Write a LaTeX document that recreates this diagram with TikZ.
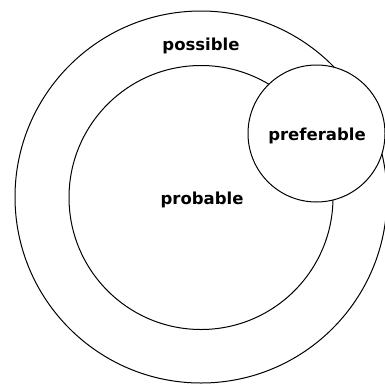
\documentclass[tikz,border=0pt]{standalone}
\usepackage{fontspec}
\setmainfont{DejaVu Sans}
\begin{document}
\begin{tikzpicture}[x=1pt,y=-1pt,
  ring/.style={circle,draw=black,line width=1pt,fill=white,inner sep=0pt},
  lbl/.style={font=\bfseries\fontsize{16.5}{18}\selectfont,inner sep=0pt}]
\useasboundingbox (0,0) rectangle (385,383);
\clip (0,0) rectangle (385,383);
\node[ring,minimum size=372pt] (possible) at (201,197) {};
\node[ring,minimum size=264pt] (probable) at (201,197.5) {};
\node[ring,minimum size=137pt] (preferable) at (316.5,133.5) {};
\node[lbl] (tpossible) at (201,46) {possible};
\node[lbl] (tprobable) at (202,199.5) {probable};
\node[lbl] (tpreferable) at (317,136) {preferable};
\end{tikzpicture}
\end{document}
